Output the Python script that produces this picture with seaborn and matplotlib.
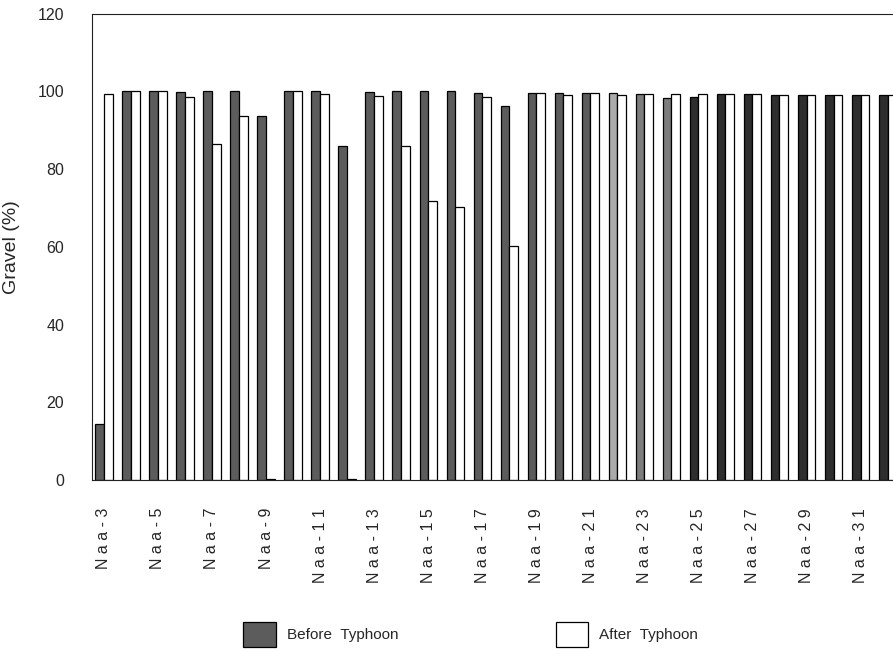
import matplotlib
matplotlib.use("Agg")
import matplotlib.pyplot as plt
import seaborn as sns
import pandas as pd

# =========================
# DATA
# =========================
stations = [f"Naa-{i}" for i in range(3, 33)]

before_typhoon = [14.5, 100, 100, 99.8, 100, 100, 93.6, 100, 100, 86.1,
                  99.8, 100, 100, 100, 99.7, 96.2, 99.6, 99.5, 99.6, 99.6,
                  99.3, 98.3, 98.7, 99.3, 99.3, 99.2, 99.2, 99.2, 99.2, 99.2]

after_typhoon = [99.4, 100, 100, 98.7, 86.5, 93.8, 0.2, 100, 99.3, 0.4,
                 98.9, 86.1, 71.8, 70.2, 98.5, 60.3, 99.6, 99.0, 99.6, 99.0,
                 99.3, 99.3, 99.3, 99.3, 99.3, 99.2, 99.2, 99.2, 99.2, 99.2]

# tone of the scanned "before" bars
before_shades = (["#5c5c5c"] * 19 + ["#ababab"] + ["#7d7d7d"] * 2
                 + ["#2e2e2e"] * 8)

df = pd.DataFrame({
    "Station": stations * 2,
    "Gravel": before_typhoon + after_typhoon,
    "Period": ["Before Typhoon"] * len(stations) + ["After Typhoon"] * len(stations),
})

# =========================
# PLOT
# =========================
sns.set_style("white")
plt.rcParams["font.family"] = ["Liberation Sans", "DejaVu Sans"]

fig = plt.figure(figsize=(8.93, 6.55), dpi=100)
ax = fig.add_axes([0.103, 0.267, 0.897, 0.712])

sns.barplot(
    data=df,
    x="Station",
    y="Gravel",
    hue="Period",
    palette={"Before Typhoon": "#5c5c5c", "After Typhoon": "white"},
    edgecolor="black",
    linewidth=0.9,
    width=0.64,
    gap=0.0,
    ax=ax,
)

# recolour the "before" bars
n = len(stations)
before_bars = ax.containers[0]
for patch, shade in zip(before_bars, before_shades):
    patch.set_facecolor(shade)

ax.set_ylim(0, 120)
ax.set_yticks(range(0, 121, 20))
ax.set_xlim(-0.44, 29.2)

ax.set_xticks(range(0, n, 2))
ax.set_xticklabels([" ".join(s) for s in stations[::2]],
                   rotation=90, fontsize=11.5, va="top")
ax.tick_params(axis="x", length=0, pad=20)
ax.tick_params(axis="y", direction="in", length=3, labelsize=11.5, pad=20)

ax.set_xlabel("")
ax.set_ylabel("Gravel (%)", fontsize=14)
ax.yaxis.set_label_coords(-0.09, 0.5)

for side in ["left", "top", "bottom"]:
    ax.spines[side].set_color("#222222")
    ax.spines[side].set_linewidth(0.8)
ax.spines["right"].set_visible(False)

handles, labels = ax.get_legend_handles_labels()
ax.legend_.remove()
fig.legend(
    handles,
    ["Before  Typhoon", "After  Typhoon"],
    loc="center",
    bbox_to_anchor=(0.527, 0.031),
    ncol=2,
    frameon=False,
    fontsize=11,
    handlelength=2.15,
    handleheight=2.15,
    handletextpad=0.7,
    columnspacing=10.3,
)

fig.savefig("out.png", dpi=100)
